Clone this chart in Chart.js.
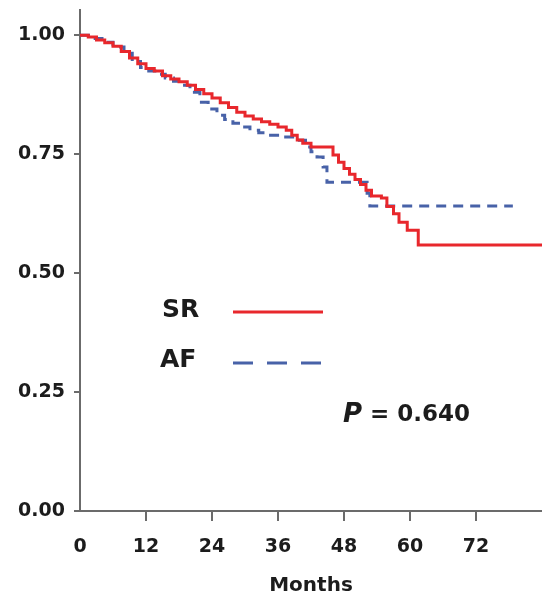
<!DOCTYPE html>
<html><head><meta charset="utf-8">
<script src="https://cdn.jsdelivr.net/npm/chart.js@4/dist/chart.umd.min.js"></script>
<style>html,body{margin:0;padding:0;background:#fff;}</style>
</head><body>
<canvas id="c" width="542" height="602"></canvas>
<script>
// ---- data ----
const srMonths   = [0, 1.5, 3, 4.5, 6, 7.5, 9, 10.5, 12, 13.5, 15, 16.5, 18, 19.5, 21, 22.5, 24, 25.5, 27, 28.5, 30, 31.5, 33, 34.5, 36, 37.5, 38.5, 39.5, 40.5, 42, 46, 47, 48, 49, 50, 51, 52, 53, 54.8, 55.8, 57, 58, 59.5, 61.5, 84];
const srSurvival = [1.000, 0.996, 0.990, 0.984, 0.977, 0.966, 0.952, 0.940, 0.930, 0.925, 0.915, 0.908, 0.902, 0.895, 0.886, 0.877, 0.868, 0.858, 0.848, 0.838, 0.830, 0.824, 0.818, 0.813, 0.807, 0.800, 0.790, 0.780, 0.773, 0.765, 0.748, 0.733, 0.720, 0.708, 0.697, 0.686, 0.674, 0.662, 0.658, 0.640, 0.625, 0.607, 0.590, 0.559, 0.559];
const afMonths   = [0, 2, 4, 6, 8, 9.5, 11, 12.5, 14, 15.5, 17, 18.5, 20, 21.8, 23.3, 24.9, 26.3, 27.8, 29.3, 30.9, 32.5, 34, 36.9, 39.5, 41, 42, 43.1, 44.2, 44.9, 52.2, 52.7, 78.7];
const afSurvival = [1.000, 0.993, 0.985, 0.975, 0.962, 0.945, 0.932, 0.925, 0.918, 0.910, 0.903, 0.895, 0.880, 0.859, 0.845, 0.832, 0.823, 0.815, 0.807, 0.800, 0.795, 0.790, 0.786, 0.779, 0.765, 0.755, 0.744, 0.723, 0.691, 0.668, 0.641, 0.641];
const xTicks = [0, 12, 24, 36, 48, 60, 72];
const yTicks = [0, 0.25, 0.5, 0.75, 1.0];
const seriesNames = ['SR', 'AF'];
const xTitle = 'Months';
const pLabel = 'P';
const pValue = ' = 0.640';

const RED = '#e8272c', BLUE = '#4862a8', AXIS = '#6b6b6b', TXT = '#1c1c1c';
const FONT = 'DejaVu Sans';

const toPts = (xs, ys) => xs.map((x, i) => ({x: x, y: ys[i]}));

const legendPlugin = {
  id: 'kmLegend',
  afterDraw(chart) {
    const ctx = chart.ctx, ca = chart.chartArea;
    ctx.save();
    ctx.fillStyle = TXT;
    ctx.font = 'bold 25px "' + FONT + '"';
    ctx.textBaseline = 'middle';
    ctx.textAlign = 'left';
    ctx.fillText(seriesNames[0], ca.left + 82, ca.top + 300);
    ctx.fillText(seriesNames[1], ca.left + 80, ca.top + 350);
    ctx.lineWidth = 3;
    ctx.strokeStyle = RED;
    ctx.beginPath(); ctx.moveTo(ca.left + 153, ca.top + 302); ctx.lineTo(ca.left + 243, ca.top + 302); ctx.stroke();
    ctx.strokeStyle = BLUE;
    ctx.setLineDash([20, 14]);
    ctx.beginPath(); ctx.moveTo(ca.left + 153, ca.top + 353); ctx.lineTo(ca.left + 243, ca.top + 353); ctx.stroke();
    ctx.setLineDash([]);
    ctx.font = 'italic bold 26px "' + FONT + '"';
    ctx.fillText(pLabel, ca.left + 263, ca.top + 405);
    const w = ctx.measureText(pLabel).width;
    ctx.font = 'bold 23px "' + FONT + '"';
    ctx.fillText(pValue, ca.left + 263 + w, ca.top + 405);
    ctx.restore();
  }
};

new Chart(document.getElementById('c'), {
  type: 'line',
  data: {
    datasets: [
      {label: seriesNames[0], data: toPts(srMonths, srSurvival), borderColor: RED, borderWidth: 3, pointRadius: 0, stepped: true, fill: false},
      {label: seriesNames[1], data: toPts(afMonths, afSurvival), borderColor: BLUE, borderWidth: 3, borderDash: [10, 7], pointRadius: 0, stepped: true, fill: false}
    ]
  },
  options: {
    responsive: false,
    animation: false,
    devicePixelRatio: 1,
    layout: {padding: {top: 10, right: 0, left: 0, bottom: 0}},
    plugins: {legend: {display: false}, tooltip: {enabled: false}},
    scales: {
      x: {
        type: 'linear', min: 0, max: 84,
        afterBuildTicks: s => { s.ticks = xTicks.map(v => ({value: v})); },
        afterFit: s => { s.height = 91; s.paddingLeft = 0; s.paddingRight = 0; },
        ticks: {font: {family: FONT, weight: 'bold', size: 19}, color: TXT, padding: 15, maxRotation: 0, autoSkip: false},
        grid: {display: true, drawOnChartArea: false, drawTicks: true, tickLength: 10, lineWidth: 2,
               color: c => (c.tick && c.tick.value === 0) ? 'rgba(0,0,0,0)' : AXIS},
        border: {display: true, color: AXIS, width: 2},
        title: {display: true, text: xTitle, font: {family: FONT, weight: 'bold', size: 20}, color: TXT, padding: {top: 2, bottom: 4}}
      },
      y: {
        type: 'linear', min: 0, max: 1.053,
        afterBuildTicks: s => { s.ticks = yTicks.map(v => ({value: v})); },
        afterFit: s => { s.width = 80; s.paddingTop = 0; s.paddingBottom = 0; },
        ticks: {font: {family: FONT, weight: 'bold', size: 19}, color: TXT, padding: 9, callback: v => Number(v).toFixed(2)},
        grid: {display: true, drawOnChartArea: false, drawTicks: true, tickLength: 6, lineWidth: 2, color: AXIS},
        border: {display: true, color: AXIS, width: 2}
      }
    }
  },
  plugins: [legendPlugin]
});
</script>
</body></html>
